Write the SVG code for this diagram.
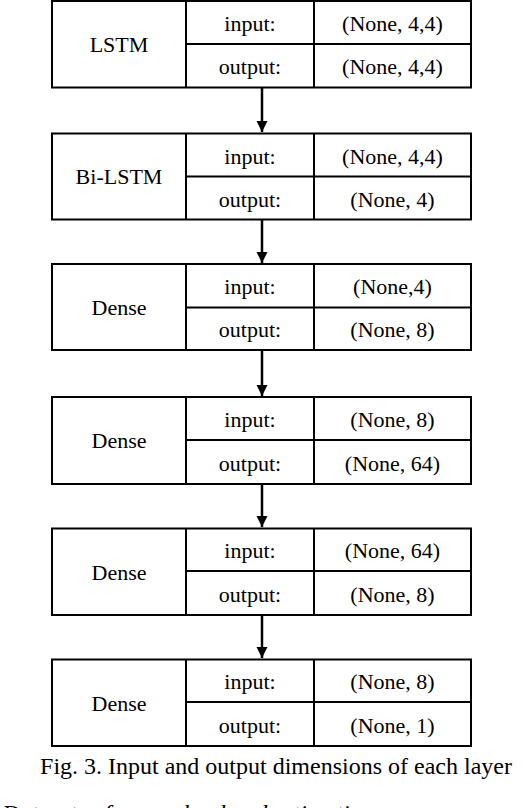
<svg xmlns="http://www.w3.org/2000/svg" width="522" height="808" viewBox="0 0 522 808" font-family="'Liberation Serif', 'DejaVu Serif', serif">
<style>
.box{fill:#fff;stroke:#000;stroke-width:2}
.ln{stroke:#000;stroke-width:2;fill:none}
text{font-family:'Liberation Serif','DejaVu Serif',serif;fill:#000}
.t{font-size:22px;text-anchor:middle}
.cap{font-size:24px;text-anchor:middle}
.body{font-size:24px;font-style:italic}
.conn{stroke:#000;stroke-width:2.5;fill:none}
</style>
<defs>
<marker id="ah" markerUnits="userSpaceOnUse" markerWidth="11" markerHeight="12" refX="11" refY="5.5" orient="auto">
<path d="M0,0 L11,5.5 L0,11 Z" fill="#000"/>
</marker>
</defs>
<rect width="522" height="808" fill="#fff"/>
<g id="connectors">
<line class="conn" x1="262" y1="88" x2="262" y2="132" marker-end="url(#ah)"/>
<line class="conn" x1="262" y1="220" x2="262" y2="263" marker-end="url(#ah)"/>
<line class="conn" x1="262" y1="351" x2="262" y2="396" marker-end="url(#ah)"/>
<line class="conn" x1="262" y1="485" x2="262" y2="527" marker-end="url(#ah)"/>
<line class="conn" x1="262" y1="616" x2="262" y2="658" marker-end="url(#ah)"/>
</g>
<g id="node-lstm">
<rect class="box" x="52" y="1" width="419" height="86.5"/>
<line class="ln" x1="186" y1="1" x2="186" y2="87.5"/>
<line class="ln" x1="314" y1="1" x2="314" y2="87.5"/>
<line class="ln" x1="186" y1="44" x2="471" y2="44"/>
<text class="t" x="119" y="52">LSTM</text>
<text class="t" x="250" y="31">input:</text>
<text class="t" x="392.5" y="31">(None, 4,4)</text>
<text class="t" x="250" y="74">output:</text>
<text class="t" x="392.5" y="74">(None, 4,4)</text>
</g>
<g id="node-bilstm">
<rect class="box" x="52" y="133.5" width="419" height="86"/>
<line class="ln" x1="186" y1="133.5" x2="186" y2="219.5"/>
<line class="ln" x1="314" y1="133.5" x2="314" y2="219.5"/>
<line class="ln" x1="186" y1="176.5" x2="471" y2="176.5"/>
<text class="t" x="119" y="184">Bi-LSTM</text>
<text class="t" x="250" y="164">input:</text>
<text class="t" x="392.5" y="164">(None, 4,4)</text>
<text class="t" x="250" y="207">output:</text>
<text class="t" x="392.5" y="207">(None, 4)</text>
</g>
<g id="node-dense1">
<rect class="box" x="52" y="264" width="419" height="86"/>
<line class="ln" x1="186" y1="264" x2="186" y2="350"/>
<line class="ln" x1="314" y1="264" x2="314" y2="350"/>
<line class="ln" x1="186" y1="307.5" x2="471" y2="307.5"/>
<text class="t" x="119" y="315">Dense</text>
<text class="t" x="250" y="294">input:</text>
<text class="t" x="392.5" y="294">(None,4)</text>
<text class="t" x="250" y="337">output:</text>
<text class="t" x="392.5" y="337">(None, 8)</text>
</g>
<g id="node-dense2">
<rect class="box" x="52" y="397" width="419" height="87"/>
<line class="ln" x1="186" y1="397" x2="186" y2="484"/>
<line class="ln" x1="314" y1="397" x2="314" y2="484"/>
<line class="ln" x1="186" y1="440" x2="471" y2="440"/>
<text class="t" x="119" y="448">Dense</text>
<text class="t" x="250" y="427">input:</text>
<text class="t" x="392.5" y="427">(None, 8)</text>
<text class="t" x="250" y="471">output:</text>
<text class="t" x="392.5" y="471">(None, 64)</text>
</g>
<g id="node-dense3">
<rect class="box" x="52" y="528.5" width="419" height="86.5"/>
<line class="ln" x1="186" y1="528.5" x2="186" y2="615"/>
<line class="ln" x1="314" y1="528.5" x2="314" y2="615"/>
<line class="ln" x1="186" y1="571" x2="471" y2="571"/>
<text class="t" x="119" y="580">Dense</text>
<text class="t" x="250" y="558">input:</text>
<text class="t" x="392.5" y="558">(None, 64)</text>
<text class="t" x="250" y="602">output:</text>
<text class="t" x="392.5" y="602">(None, 8)</text>
</g>
<g id="node-dense4">
<rect class="box" x="52" y="659.5" width="419" height="86.5"/>
<line class="ln" x1="186" y1="659.5" x2="186" y2="746"/>
<line class="ln" x1="314" y1="659.5" x2="314" y2="746"/>
<line class="ln" x1="186" y1="702" x2="471" y2="702"/>
<text class="t" x="119" y="711">Dense</text>
<text class="t" x="250" y="689">input:</text>
<text class="t" x="392.5" y="689">(None, 8)</text>
<text class="t" x="250" y="733">output:</text>
<text class="t" x="392.5" y="733">(None, 1)</text>
</g>
<text class="cap" x="276" y="774">Fig. 3. Input and output dimensions of each layer</text>
<text class="body" x="2" y="821">Datasets of power load and estimation</text>
</svg>
